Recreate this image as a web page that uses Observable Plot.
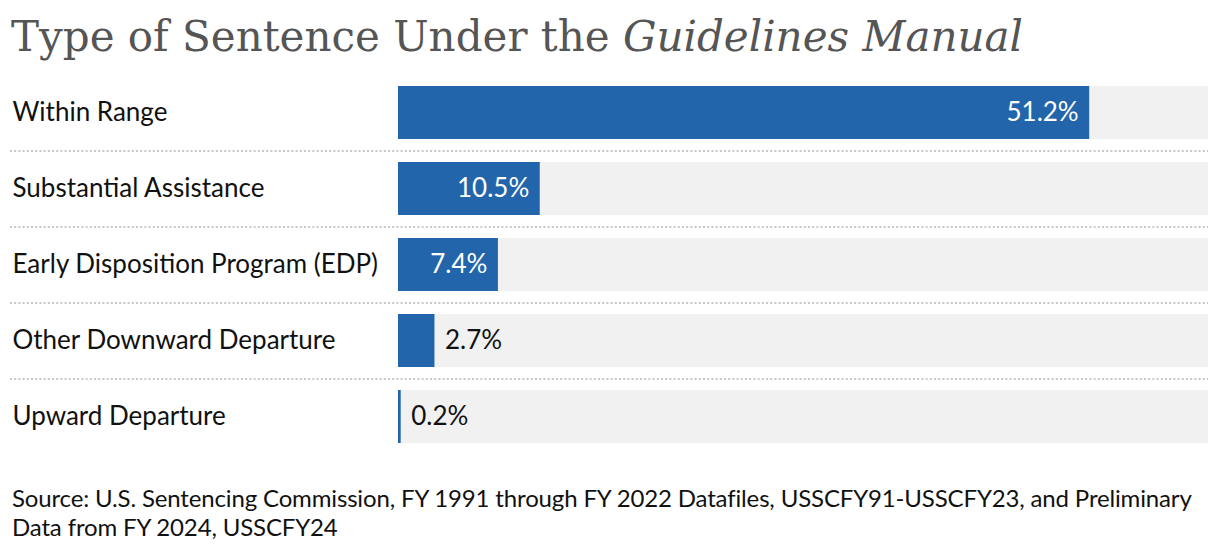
<!DOCTYPE html>
<html>
<head>
<meta charset="utf-8">
<script src="https://cdn.jsdelivr.net/npm/d3@7"></script>
<script src="https://cdn.jsdelivr.net/npm/@observablehq/plot@0.6"></script>
<style>
  html, body { margin: 0; padding: 0; background: #fff; }
  body { width: 1220px; height: 554px; overflow: hidden; }
  #title { height: 70px; box-sizing: border-box; padding: 12px 0 0 11px; font-family: "DejaVu Serif", serif; font-size: 42px; color: #555; line-height: 50px; white-space: nowrap; }
  #title em { font-style: italic; }
  #source { padding: 23px 0 0 12px; font-family: Lato, sans-serif; font-size: 24px; letter-spacing: -0.15px; line-height: 29px; color: #111; white-space: nowrap; }
</style>
</head>
<body>
<div id="title">Type of Sentence Under the <em>Guidelines Manual</em></div>
<div id="chart"></div>
<div id="source">Source: U.S. Sentencing Commission, FY 1991 through FY 2022 Datafiles, USSCFY91-USSCFY23, and Preliminary<br>Data from FY 2024, USSCFY24</div>
<script>
const categories = ["Within Range", "Substantial Assistance", "Early Disposition Program (EDP)", "Other Downward Departure", "Upward Departure"];
const values = [51.2, 10.5, 7.4, 2.7, 0.2];
const xMax = 60;

const data = categories.map((c, i) => ({category: c, value: values[i]}));
const fmt = v => v.toFixed(1) + "%";

const chart = Plot.plot({
  width: 1220,
  height: 390,
  marginTop: 5,
  marginBottom: 5,
  marginLeft: 10,
  marginRight: 12,
  style: {fontFamily: "Lato, sans-serif", background: "transparent"},
  x: {domain: [0, xMax], range: [398, 1208], axis: null},
  y: {domain: categories, paddingInner: 0.3, paddingOuter: 0.15, axis: null},
  marks: [
    Plot.ruleY(categories.slice(0, -1), {y: d => d, dy: 38, stroke: "#c8c8c8", strokeWidth: 2, strokeDasharray: "2,2.2"}),
    Plot.barX(data, {y: "category", x1: 0, x2: xMax, fill: "#f1f1f1"}),
    Plot.barX(data, {y: "category", x: "value", fill: "#2265ab"}),
    Plot.text(categories, {y: d => d, text: d => d, frameAnchor: "left", textAnchor: "start", dx: 2, fontSize: 26, fill: "#111"}),
    Plot.text(data.filter(d => d.value >= 5), {y: "category", x: "value", text: d => fmt(d.value), textAnchor: "end", dx: -11, fontSize: 26, fill: "#fff"}),
    Plot.text(data.filter(d => d.value < 5), {y: "category", x: "value", text: d => fmt(d.value), textAnchor: "start", dx: 10, fontSize: 26, fill: "#111"})
  ]
});
document.getElementById("chart").append(chart);
</script>
</body>
</html>
